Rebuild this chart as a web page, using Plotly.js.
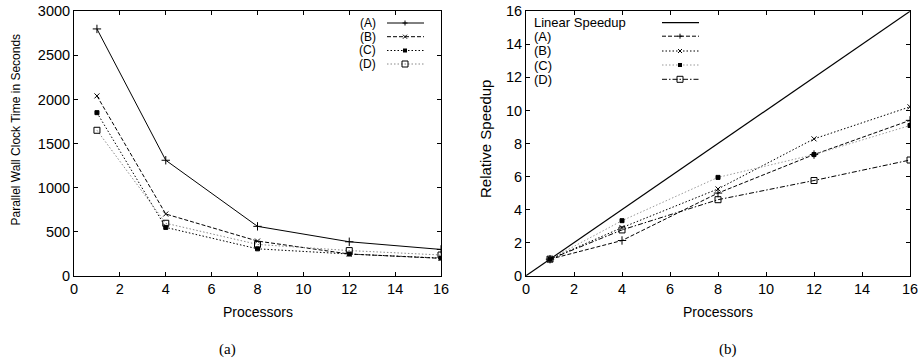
<!DOCTYPE html>
<html>
<head>
<meta charset="utf-8">
<script src="https://cdn.plot.ly/plotly-3.0.1.min.js"></script>
<style>html,body{margin:0;padding:0;background:#fff;}#chart{width:918px;height:360px;}</style>
</head>
<body>
<div id="chart"></div>
<script>
// ---------- data ----------
const processors = [1, 4, 8, 12, 16];
const seriesNames = ['(A)', '(B)', '(C)', '(D)'];
const timeA = [2800, 1310, 560, 385, 298];
const timeB = [2040, 700, 393, 246, 197];
const timeC = [1850, 548, 305, 246, 200];
const timeD = [1650, 595, 355, 285, 235];
const speedA = [1, 2.13, 5.0, 7.33, 9.4];
const speedB = [1, 2.91, 5.25, 8.28, 10.22];
const speedC = [1, 3.33, 5.95, 7.33, 9.09];
const speedD = [1, 2.77, 4.6, 5.76, 7.0];
const linearName = 'Linear Speedup';
const linearX = [0, 16];
const linearY = [0, 16];
const xTickVals = [0, 2, 4, 6, 8, 10, 12, 14, 16];
const timeTickVals = [0, 500, 1000, 1500, 2000, 2500, 3000];
const speedTickVals = [0, 2, 4, 6, 8, 10, 12, 14, 16];
const xTitle = 'Processors';
const timeTitle = 'Parallel Wall Clock Time in Seconds';
const speedTitle = 'Relative Speedup';
const captions = ['(a)', '(b)'];

// ---------- styles ----------
const W = 918, H = 360;
const FONT = 'Liberation Sans, Arial, Helvetica, sans-serif';
const SERIF = 'Liberation Serif, Times New Roman, serif';
const DASHED = '4px,2px';
const DOTTED = '1.5px,2px';
const DASHDOT = '5px,2px,1.5px,2px';
const leftStyles = [
  {color: '#000', dash: 'solid', symbol: 'cross-thin-open', size: 6},
  {color: '#000', dash: DASHED, symbol: 'x-thin-open', size: 5},
  {color: '#000', dash: DOTTED, symbol: 'square', size: 4},
  {color: '#888', dash: DOTTED, symbol: 'square-open', size: 6}
];
const rightStyles = [
  {color: '#000', dash: DASHED, symbol: 'cross-thin-open', size: 6},
  {color: '#000', dash: DOTTED, symbol: 'x-thin-open', size: 5},
  {color: '#999', dash: DOTTED, symbol: 'square', size: 4},
  {color: '#000', dash: DASHDOT, symbol: 'square-open', size: 6}
];
const timeSeries = [timeA, timeB, timeC, timeD];
const speedSeries = [speedA, speedB, speedC, speedD];

const traces = [];
timeSeries.forEach((ys, i) => {
  const s = leftStyles[i];
  traces.push({
    x: processors, y: ys, name: seriesNames[i], xaxis: 'x', yaxis: 'y',
    type: 'scatter', mode: 'lines+markers', showlegend: false,
    line: {color: s.color, width: 1, dash: s.dash},
    marker: {symbol: s.symbol, size: s.size, color: '#000', line: {color: '#000', width: 1}}
  });
});
traces.push({
  x: linearX, y: linearY, name: linearName, xaxis: 'x2', yaxis: 'y2',
  type: 'scatter', mode: 'lines', showlegend: false,
  line: {color: '#000', width: 1.2}
});
speedSeries.forEach((ys, i) => {
  const s = rightStyles[i];
  traces.push({
    x: processors, y: ys, name: seriesNames[i], xaxis: 'x2', yaxis: 'y2',
    type: 'scatter', mode: 'lines+markers', showlegend: false,
    line: {color: s.color, width: 1, dash: s.dash},
    marker: {symbol: s.symbol, size: s.size, color: '#000', line: {color: '#000', width: 1}}
  });
});

// pixel -> paper helpers (margins are zero)
const px = v => v / W;
const py = v => 1 - v / H;

function axisBase(extra) {
  return Object.assign({
    showline: true, linecolor: '#000', linewidth: 1, mirror: 'ticks',
    ticks: 'inside', ticklen: 4, tickwidth: 1, tickcolor: '#000',
    showgrid: false, zeroline: false, fixedrange: true,
    ticklabeloverflow: 'allow',
    tickfont: {family: FONT, size: 14.5, color: '#000'}
  }, extra);
}

const shapes = [];
const annotations = [];

function legendMarker(symbol, cx, cy) {
  const r = 2.5;
  const line = {color: '#000', width: 1};
  if (symbol.startsWith('cross')) {
    shapes.push({type: 'line', xref: 'paper', yref: 'paper', x0: px(cx - r), x1: px(cx + r), y0: py(cy), y1: py(cy), line});
    shapes.push({type: 'line', xref: 'paper', yref: 'paper', x0: px(cx), x1: px(cx), y0: py(cy - r), y1: py(cy + r), line});
  } else if (symbol.startsWith('x')) {
    shapes.push({type: 'line', xref: 'paper', yref: 'paper', x0: px(cx - 2), x1: px(cx + 2), y0: py(cy - 2), y1: py(cy + 2), line});
    shapes.push({type: 'line', xref: 'paper', yref: 'paper', x0: px(cx - 2), x1: px(cx + 2), y0: py(cy + 2), y1: py(cy - 2), line});
  } else if (symbol === 'square') {
    shapes.push({type: 'rect', xref: 'paper', yref: 'paper', x0: px(cx - 2), x1: px(cx + 2), y0: py(cy - 2), y1: py(cy + 2), line: {width: 0}, fillcolor: '#000'});
  } else {
    shapes.push({type: 'rect', xref: 'paper', yref: 'paper', x0: px(cx - 3), x1: px(cx + 3), y0: py(cy - 3), y1: py(cy + 3), line, fillcolor: 'rgba(0,0,0,0)'});
  }
}

// Left legend (text right-aligned, then sample)
const leftLegendRows = [23, 36.7, 50.5, 64];
seriesNames.forEach((n, i) => {
  const s = leftStyles[i], y = leftLegendRows[i];
  annotations.push({xref: 'paper', yref: 'paper', x: px(377), y: py(y), xanchor: 'right', yanchor: 'middle',
    text: n, showarrow: false, borderpad: 0, font: {family: FONT, size: 12, color: '#000'}});
  shapes.push({type: 'line', xref: 'paper', yref: 'paper', x0: px(387), x1: px(424), y0: py(y), y1: py(y),
    line: {color: s.color, width: 1, dash: s.dash}});
  legendMarker(s.symbol, 405, y);
});

// Right legend (text left-aligned, then sample)
const rightLegendRows = [22.7, 36.2, 51, 65, 79.3];
const rightNames = [linearName].concat(seriesNames);
rightNames.forEach((n, i) => {
  const y = rightLegendRows[i];
  annotations.push({xref: 'paper', yref: 'paper', x: px(533), y: py(y), xanchor: 'left', yanchor: 'middle',
    text: n, showarrow: false, borderpad: 0, font: {family: FONT, size: 13, color: '#000'}});
  if (i === 0) {
    shapes.push({type: 'line', xref: 'paper', yref: 'paper', x0: px(662), x1: px(699), y0: py(y), y1: py(y),
      line: {color: '#000', width: 1.2}});
  } else {
    const s = rightStyles[i - 1];
    shapes.push({type: 'line', xref: 'paper', yref: 'paper', x0: px(662), x1: px(699), y0: py(y), y1: py(y),
      line: {color: s.color, width: 1, dash: s.dash}});
    legendMarker(s.symbol, 680, y);
  }
});

// axis titles and captions
annotations.push({xref: 'paper', yref: 'paper', x: px(257.5), y: py(311.5), xanchor: 'center', yanchor: 'middle',
  text: xTitle, showarrow: false, font: {family: FONT, size: 14, color: '#000'}});
annotations.push({xref: 'paper', yref: 'paper', x: px(718), y: py(311.5), xanchor: 'center', yanchor: 'middle',
  text: xTitle, showarrow: false, font: {family: FONT, size: 14, color: '#000'}});
annotations.push({xref: 'paper', yref: 'paper', x: px(15.5), y: py(130), xanchor: 'center', yanchor: 'middle',
  text: timeTitle, textangle: -90, showarrow: false, font: {family: FONT, size: 12, color: '#000'}});
annotations.push({xref: 'paper', yref: 'paper', x: px(485), y: py(139), xanchor: 'center', yanchor: 'middle',
  text: speedTitle, textangle: -90, showarrow: false, font: {family: FONT, size: 15, color: '#000'}});
annotations.push({xref: 'paper', yref: 'paper', x: px(227), y: py(349), xanchor: 'center', yanchor: 'middle',
  text: captions[0], showarrow: false, font: {family: SERIF, size: 15, color: '#000'}});
annotations.push({xref: 'paper', yref: 'paper', x: px(728), y: py(349), xanchor: 'center', yanchor: 'middle',
  text: captions[1], showarrow: false, font: {family: SERIF, size: 15, color: '#000'}});

const yDomain = [1 - 275.7 / H, 1 - 11.3 / H];
const layout = {
  width: W, height: H,
  margin: {l: 0, r: 0, t: 0, b: 0},
  paper_bgcolor: '#fff', plot_bgcolor: '#fff',
  showlegend: false,
  font: {family: FONT, color: '#000'},
  xaxis: axisBase({domain: [74 / W, 441 / W], range: [0, 16], tickvals: xTickVals, anchor: 'y'}),
  yaxis: axisBase({domain: yDomain, range: [0, 3000], tickvals: timeTickVals, anchor: 'x'}),
  xaxis2: axisBase({domain: [526 / W, 910 / W], range: [0, 16], tickvals: xTickVals, anchor: 'y2'}),
  yaxis2: axisBase({domain: yDomain, range: [0, 16], tickvals: speedTickVals, anchor: 'x2'}),
  shapes: shapes,
  annotations: annotations
};

Plotly.newPlot('chart', traces, layout, {staticPlot: true, displayModeBar: false});
</script>
</body>
</html>
